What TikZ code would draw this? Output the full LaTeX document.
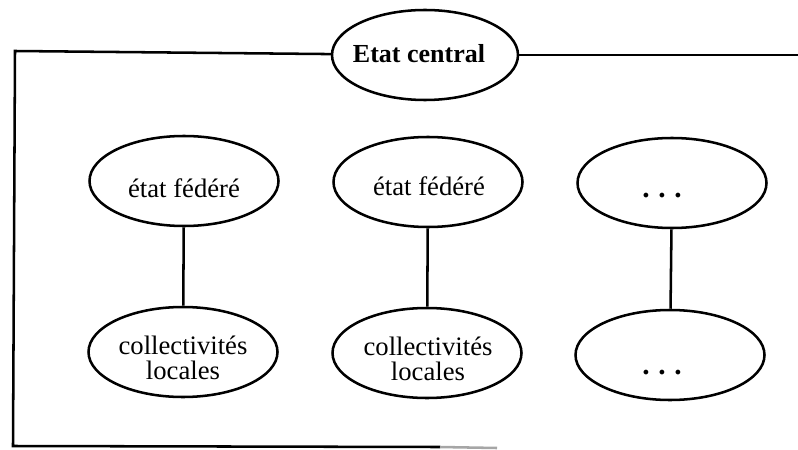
\documentclass[tikz,border=0pt]{standalone}
\usepackage{fontspec}
\setmainfont{Liberation Serif}
\usetikzlibrary{shapes.geometric}
\begin{document}
\begin{tikzpicture}[x=0.75pt,y=-0.75pt,
  ell/.style={draw, ellipse, line width=1.9pt, inner sep=0pt,
              minimum width=141.75pt, minimum height=67.5pt},
  txt/.style={font=\fontsize{20}{19}\selectfont, inner sep=0pt, align=center},
  dotstxt/.style={font=\bfseries\fontsize{22}{19}\selectfont, inner sep=0pt},
  link/.style={line width=1.9pt},
  frameline/.style={line width=1.9pt}]
\useasboundingbox (0,0) rectangle (798,449);

% top node
\node[ell, minimum width=139.5pt] (central) at (425,55) {};
\node[txt, font=\bfseries\fontsize{19.5}{19}\selectfont, anchor=base] (tcentral) at (419,63) {Etat central};

% upper row
\node[ell] (e1) at (184,181) {};
\node[ell] (e2) at (428,182) {};
\node[ell] (e3) at (672,183) {};
\node[txt, anchor=base] (te1) at (184,197) {état fédéré};
\node[txt, anchor=base] (te2) at (429,195) {état fédéré};
\node[dotstxt, anchor=base] (te3) at (662,197) {.\hspace{6.5pt}.\hspace{6.5pt}.};

% lower row
\node[ell] (c1) at (183,352) {};
\node[ell] (c2) at (427,353) {};
\node[ell] (c3) at (670,355) {};
\node[txt] (tc1) at (183,358) {collectivités\\locales};
\node[txt] (tc2) at (428,359) {collectivités\\locales};
\node[dotstxt, anchor=base] (tc3) at (662,374) {.\hspace{6.5pt}.\hspace{6.5pt}.};

% connectors
\draw[link] (e1) -- (c1);
\draw[link] (e2) -- (c2);
\draw[link] (e3) -- (c3);

% frame
\coordinate (tl) at (15,51);
\coordinate (bl) at (13,446);
\coordinate (tr) at (798,55);
\coordinate (bm) at (440,447);
\coordinate (br) at (497,448);
\draw[frameline] (central) -- (tl) -- (bl) -- (bm);
\draw[frameline] (central) -- (tr);
\draw[frameline, black!35] (bm) -- (br);
\end{tikzpicture}
\end{document}
